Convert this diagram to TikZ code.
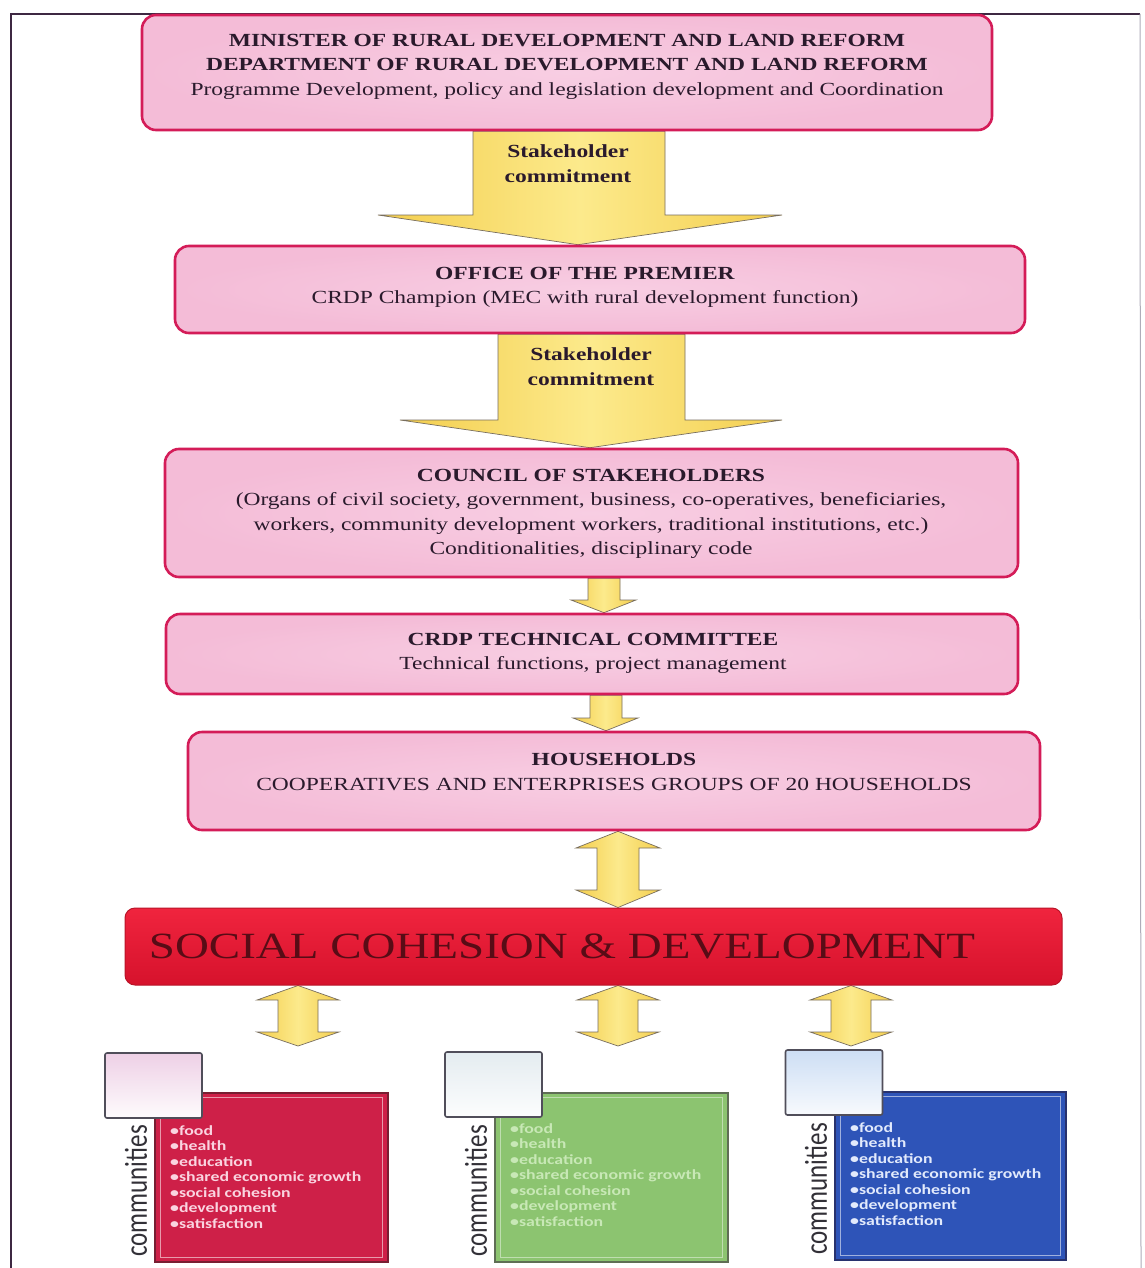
\documentclass[tikz,border=0pt]{standalone}
\usepackage{fontspec}
\setmainfont{Liberation Serif}[FakeStretch=1.27]
\newfontfamily\calfont{Carlito}[FakeStretch=1.27]
\newfontfamily\calplain{Carlito}
\usetikzlibrary{calc,backgrounds}
\definecolor{pinkfill}{RGB}{244,188,215}
\definecolor{pinklight}{RGB}{248,206,227}
\definecolor{pinkline}{RGB}{212,28,88}
\definecolor{ink}{RGB}{42,26,44}
\definecolor{arrowlight}{RGB}{252,234,140}
\definecolor{arrowdark}{RGB}{244,206,78}
\definecolor{arrowline}{RGB}{120,110,95}
\definecolor{bartop}{RGB}{240,36,62}
\definecolor{barbot}{RGB}{214,18,44}
\definecolor{barline}{RGB}{185,20,40}
\definecolor{barink}{RGB}{88,12,22}
\definecolor{redbox}{RGB}{206,32,72}
\definecolor{redboxline}{RGB}{120,30,50}
\definecolor{redtext}{RGB}{250,212,224}
\definecolor{greenbox}{RGB}{140,196,112}
\definecolor{greenboxline}{RGB}{95,110,85}
\definecolor{greentext}{RGB}{200,232,182}
\definecolor{bluebox}{RGB}{46,84,184}
\definecolor{blueboxline}{RGB}{40,50,110}
\definecolor{bluetext}{RGB}{226,234,252}
\definecolor{frameline}{RGB}{62,40,66}
\definecolor{framelight}{RGB}{175,172,185}
\definecolor{smallline}{RGB}{80,78,90}
\definecolor{commink}{RGB}{50,48,55}
\definecolor{smallpink}{RGB}{238,208,230}
\definecolor{smallgrey}{RGB}{228,236,240}
\definecolor{smallblue}{RGB}{205,222,244}
\begin{document}
\begin{tikzpicture}[x=1pt,y=-1pt,
  pbox/.style={draw=pinkline, line width=2.6pt, inner color=pinklight, outer color=pinkfill, rounded corners=14pt, inner sep=0pt},
  ptext/.style={text=ink, align=center, inner sep=0pt, font=\fontsize{18.5}{24.5}\selectfont},
  atext/.style={text=ink, align=center, inner sep=0pt, font=\bfseries\fontsize{18.5}{25}\selectfont},
  yarrow/.style={draw=arrowline, line width=0.7pt, left color=arrowdark, right color=arrowdark, middle color=arrowlight, line join=miter},
  bigbox/.style={line width=1.3pt, inner sep=0pt},
  smallbox/.style={draw=smallline, line width=1.6pt, rounded corners=2pt, inner sep=0pt, minimum width=97pt, minimum height=65pt},
  blist/.style={align=left, inner sep=0pt, anchor=north west, font=\calfont\bfseries\fontsize{14}{15.5}\selectfont},
  ctext/.style={rotate=90, text=commink, inner sep=0pt}
]
\useasboundingbox (0,0) rectangle (1144,1268);
% frame
\draw[frameline, line width=1.6pt] (11,1268) -- (11,14) -- (1140,14);
\draw[framelight, line width=1pt] (1140,14) -- (1141,1268);

% pink boxes
\node[pbox, minimum width=850pt, minimum height=115pt] (b1) at (567,72.5) {};
\node[ptext] (t1) at (567,66.5) {\textbf{MINISTER OF RURAL DEVELOPMENT AND LAND REFORM}\\\textbf{DEPARTMENT OF RURAL DEVELOPMENT AND LAND REFORM}\\Programme Development, policy and legislation development and Coordination};

\node[pbox, minimum width=850pt, minimum height=87pt] (b2) at (600,289.5) {};
\node[ptext] (t2) at (585,287.5) {\textbf{OFFICE OF THE PREMIER}\\CRDP Champion (MEC with rural development function)};

\node[pbox, minimum width=853pt, minimum height=128pt] (b3) at (591.5,513) {};
\node[ptext] (t3) at (591,514) {\textbf{COUNCIL OF STAKEHOLDERS}\\(Organs of civil society, government, business, co-operatives, beneficiaries,\\workers, community development workers, traditional institutions, etc.)\\Conditionalities, disciplinary code};

\node[pbox, minimum width=852pt, minimum height=80pt] (b4) at (592,654) {};
\node[ptext] (t4) at (593,653.5) {\textbf{CRDP TECHNICAL COMMITTEE}\\Technical functions, project management};

\node[pbox, minimum width=852pt, minimum height=98pt] (b5) at (614,781) {};
\node[ptext] (t5) at (614,772) {\textbf{HOUSEHOLDS}\\COOPERATIVES AND ENTERPRISES GROUPS OF 20 HOUSEHOLDS};

% red bar
\node[draw=barline, line width=1pt, top color=bartop, bottom color=barbot, rounded corners=10pt, minimum width=937pt, minimum height=77pt, inner sep=0pt] (bar) at (593.5,946.5) {};
\node[text=barink, inner sep=0pt, font=\fontsize{37}{40}\selectfont] (bart) at (562,946) {SOCIAL COHESION \& DEVELOPMENT};

% community groups: big boxes
\node[bigbox, draw=redboxline, fill=redbox, minimum width=233pt, minimum height=169pt] (c1) at (271.5,1177.5) {};
\node[bigbox, draw=greenboxline, fill=greenbox, minimum width=233pt, minimum height=169pt] (c2) at (611.5,1177.5) {};
\node[bigbox, draw=blueboxline, fill=bluebox, minimum width=231pt, minimum height=168pt] (c3) at (950.5,1176) {};
\draw[white, opacity=0.55, line width=1.6pt] ($(c1.north west)+(6,5)$) rectangle ($(c1.south east)+(-6,-5)$);
\draw[white, opacity=0.45, line width=1.6pt] ($(c2.north west)+(6,5)$) rectangle ($(c2.south east)+(-6,-5)$);
\draw[white, opacity=0.55, line width=1.6pt] ($(c3.north west)+(6,5)$) rectangle ($(c3.south east)+(-6,-5)$);

% small boxes
\node[smallbox, top color=smallpink, bottom color=white!92!smallpink] (s1) at (153.5,1085.5) {};
\node[smallbox, top color=smallgrey, bottom color=white!90!smallgrey] (s2) at (493.5,1084.5) {};
\node[smallbox, top color=smallblue, bottom color=white!85!smallblue] (s3) at (834,1082.5) {};

% communities labels
\node[ctext] (k1) at (136,1191) {\calplain\fontsize{25}{25}\selectfont\scalebox{1}[1.27]{communities}};
\node[ctext] (k2) at (476,1191) {\calplain\fontsize{25}{25}\selectfont\scalebox{1}[1.27]{communities}};
\node[ctext] (k3) at (816,1189) {\calplain\fontsize{25}{25}\selectfont\scalebox{1}[1.27]{communities}};

% bullet lists
\node[blist, text=redtext] (l1) at (170,1125) {•food\\•health\\•education\\•shared economic growth\\•social cohesion\\•development\\•satisfaction};
\node[blist, text=greentext] (l2) at (510,1123) {•food\\•health\\•education\\•shared economic growth\\•social cohesion\\•development\\•satisfaction};
\node[blist, text=bluetext] (l3) at (850,1122) {•food\\•health\\•education\\•shared economic growth\\•social cohesion\\•development\\•satisfaction};

% free ends of the lower double arrows
\coordinate (e1) at (298,1046);
\coordinate (e2) at (618,1046);
\coordinate (e3) at (851,1046);

\begin{scope}[on background layer]
\fill[white] (0,0) rectangle (1144,1268);
% big arrows
\draw[yarrow] (473,0 |- b1.south) -- (665,0 |- b1.south) -- (665,215) -- (782,215) -- (578,0 |- b2.north) -- (378,215) -- (473,215) -- cycle;
\draw[yarrow] (498,0 |- b2.south) -- (685,0 |- b2.south) -- (685,420) -- (782,420) -- (590,0 |- b3.north) -- (400,420) -- (498,420) -- cycle;
% small arrows
\draw[yarrow] (588,0 |- b3.south) -- (620,0 |- b3.south) -- (620,600) -- (636,600) -- (604,0 |- b4.north) -- (571,600) -- (588,600) -- cycle;
\draw[yarrow] (590,0 |- b4.south) -- (622,0 |- b4.south) -- (622,718) -- (638,718) -- (606,0 |- b5.north) -- (573,718) -- (590,718) -- cycle;
% double arrow households <-> bar
\draw[yarrow] (618,0 |- b5.south) -- (660,848) -- (639,848) -- (639,890) -- (660,890) -- (618,0 |- bar.north) -- (576,890) -- (597,890) -- (597,848) -- (576,848) -- cycle;
% lower double arrows
\draw[yarrow] (298,0 |- bar.south) -- (339,1000) -- (318,1000) -- (318,1032) -- (339,1032) -- (e1) -- (257,1032) -- (278,1032) -- (278,1000) -- (257,1000) -- cycle;
\draw[yarrow] (618,0 |- bar.south) -- (659,1000) -- (638,1000) -- (638,1032) -- (659,1032) -- (e2) -- (577,1032) -- (598,1032) -- (598,1000) -- (577,1000) -- cycle;
\draw[yarrow] (851,0 |- bar.south) -- (892,1000) -- (871,1000) -- (871,1032) -- (892,1032) -- (e3) -- (810,1032) -- (831,1032) -- (831,1000) -- (810,1000) -- cycle;
\end{scope}

% arrow labels
\node[atext] (a1) at (568,163.5) {Stakeholder\\commitment};
\node[atext] (a2) at (591,367) {Stakeholder\\commitment};
\end{tikzpicture}
\end{document}
